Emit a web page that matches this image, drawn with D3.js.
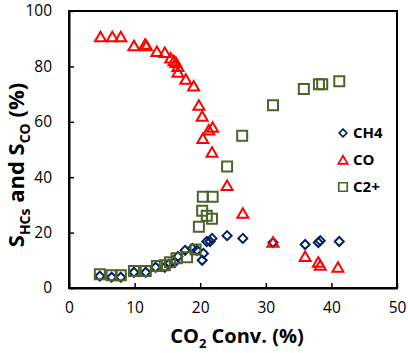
<!DOCTYPE html>
<meta charset="utf-8">
<script src="https://cdn.jsdelivr.net/npm/d3@7"></script>
<style>
    body { margin: 0; background: #fff; }
    text { font-family: "Open Sans", sans-serif; }
    .tick text { font-size: 15.5px; fill: #000; }
    .axis path, .axis line { stroke: #000; }
</style>
<body>
<svg width="408" height="353" class="chart"></svg>
</body>
<script>
    // CO2 conversion (%) and selectivity (%)
    const ch4X = [4.7, 6.5, 7.9, 9.9, 11.7, 13.2, 14.6, 15.2, 16.1, 16.6, 17.7, 18.8, 19.5, 20.3, 20.5, 21.0, 21.5, 21.8, 24.1, 26.5, 31.1, 36.0, 38.0, 38.3, 41.2];
    const ch4Y = [4.3, 3.9, 3.9, 5.7, 5.7, 7.5, 7.5, 8.6, 9.3, 11.4, 13.6, 14.3, 13.6, 10.0, 12.5, 16.8, 16.8, 17.9, 18.9, 17.9, 16.4, 15.7, 16.4, 17.1, 16.8];

    const coX = [4.8, 6.6, 7.9, 9.9, 11.6, 11.8, 13.4, 14.6, 15.5, 16.0, 16.3, 16.6, 16.6, 17.8, 19.0, 19.8, 20.3, 20.4, 21.3, 21.9, 21.8, 24.1, 26.5, 31.1, 36.0, 38.0, 38.3, 41.0];
    const coY = [90.7, 90.7, 90.7, 87.5, 88.0, 87.5, 85.4, 85.0, 83.0, 82.0, 81.4, 80.0, 77.9, 75.4, 72.9, 66.0, 62.0, 54.0, 57.0, 58.0, 49.0, 37.0, 27.0, 16.5, 11.4, 9.3, 8.2, 7.5];

    const c2X = [4.7, 6.5, 7.9, 9.9, 11.7, 13.4, 14.6, 15.4, 16.4, 18.0, 19.3, 19.8, 20.3, 20.4, 21.9, 21.0, 21.8, 24.1, 26.4, 31.1, 35.8, 38.1, 38.6, 41.2];
    const c2Y = [5.0, 4.6, 4.6, 6.1, 6.1, 7.9, 8.2, 9.3, 10.7, 11.1, 13.9, 22.1, 27.9, 32.9, 32.9, 26.1, 25.0, 43.9, 55.0, 66.0, 71.8, 73.6, 73.6, 74.6];

    const xTicks = [0, 10, 20, 30, 40, 50];
    const yTicks = [0, 20, 40, 60, 80, 100];

    const series = [
        { name: 'CH4', xs: ch4X, ys: ch4Y, shape: 'diamond', color: '#002060' },
        { name: 'CO', xs: coX, ys: coY, shape: 'triangle', color: '#ff0000' },
        { name: 'C2+', xs: c2X, ys: c2Y, shape: 'square', color: '#4f6228' }
    ];

    const margin = { top: 11, right: 11, bottom: 65, left: 69 },
        width = 408 - margin.left - margin.right,
        height = 353 - margin.top - margin.bottom;

    const x = d3.scaleLinear().domain([0, 50]).range([0, width]);
    const y = d3.scaleLinear().domain([0, 100]).range([height, 0]);

    const shapes = {
        diamond: 'M0,-4.5L4.5,0L0,4.5L-4.5,0Z',
        triangle: 'M0,-5L5.5,4.5L-5.5,4.5Z',
        square: 'M-5,-5H5V5H-5Z'
    };

    const svg = d3.select('.chart');
    const g = svg.append('g')
        .attr('transform', 'translate(' + margin.left + ',' + margin.top + ')');

    // frame
    g.append('rect')
        .attr('width', width)
        .attr('height', height)
        .attr('fill', 'none')
        .attr('stroke', '#000')
        .attr('stroke-width', 2);

    g.append('g')
        .attr('class', 'axis')
        .attr('transform', 'translate(0,' + height + ')')
        .call(d3.axisBottom(x).tickValues(xTicks).tickSizeInner(-5).tickSizeOuter(0).tickPadding(14))
        .call(s => s.select('.domain').attr('stroke-width', 2))
        .call(s => s.selectAll('.tick line').attr('stroke-width', 1.5));

    g.append('g')
        .attr('class', 'axis')
        .call(d3.axisLeft(y).tickValues(yTicks).tickSizeInner(-5).tickSizeOuter(0).tickPadding(17))
        .call(s => s.select('.domain').attr('stroke-width', 2))
        .call(s => s.selectAll('.tick line').attr('stroke-width', 1.5));

    series.forEach(sr => {
        const pts = sr.xs.map((v, i) => ({ x: v, y: sr.ys[i] }));
        g.append('g')
            .selectAll('path')
            .data(pts)
            .enter()
            .append('path')
            .attr('d', shapes[sr.shape])
            .attr('transform', d => 'translate(' + x(d.x) + ',' + y(d.y) + ')')
            .attr('fill', 'none')
            .attr('stroke', sr.color)
            .attr('stroke-width', 2);
    });

    // legend
    const legend = g.append('g')
        .attr('transform', 'translate(' + (width - 54) + ',' + 122 + ')');
    series.forEach((sr, i) => {
        const row = legend.append('g').attr('transform', 'translate(0,' + i * 27 + ')');
        row.append('path')
            .attr('d', shapes[sr.shape])
            .attr('transform', 'scale(0.85)')
            .attr('fill', 'none')
            .attr('stroke', sr.color)
            .attr('stroke-width', 2);
        row.append('text')
            .attr('x', 10)
            .attr('dy', '0.35em')
            .attr('font-size', 15)
            .attr('font-weight', 'bold')
            .text(sr.name);
    });

    // axis titles
    const xt = svg.append('text')
        .attr('x', margin.left + width / 2 + 4)
        .attr('y', 343)
        .attr('text-anchor', 'middle')
        .attr('font-size', 20)
        .attr('font-weight', 'bold');
    xt.append('tspan').text('CO');
    xt.append('tspan').attr('font-size', 13).attr('dy', 5).text('2');
    xt.append('tspan').attr('dy', -5).text(' Conv. (%)');

    const yt = svg.append('text')
        .attr('transform', 'translate(24,165) rotate(-90)')
        .attr('text-anchor', 'middle')
        .attr('font-size', 22)
        .attr('font-weight', 'bold');
    yt.append('tspan').text('S');
    yt.append('tspan').attr('font-size', 14).attr('dy', 6).text('HCs');
    yt.append('tspan').attr('dy', -6).text(' and S');
    yt.append('tspan').attr('font-size', 14).attr('dy', 6).text('CO');
    yt.append('tspan').attr('dy', -6).text(' (%)');
</script>
